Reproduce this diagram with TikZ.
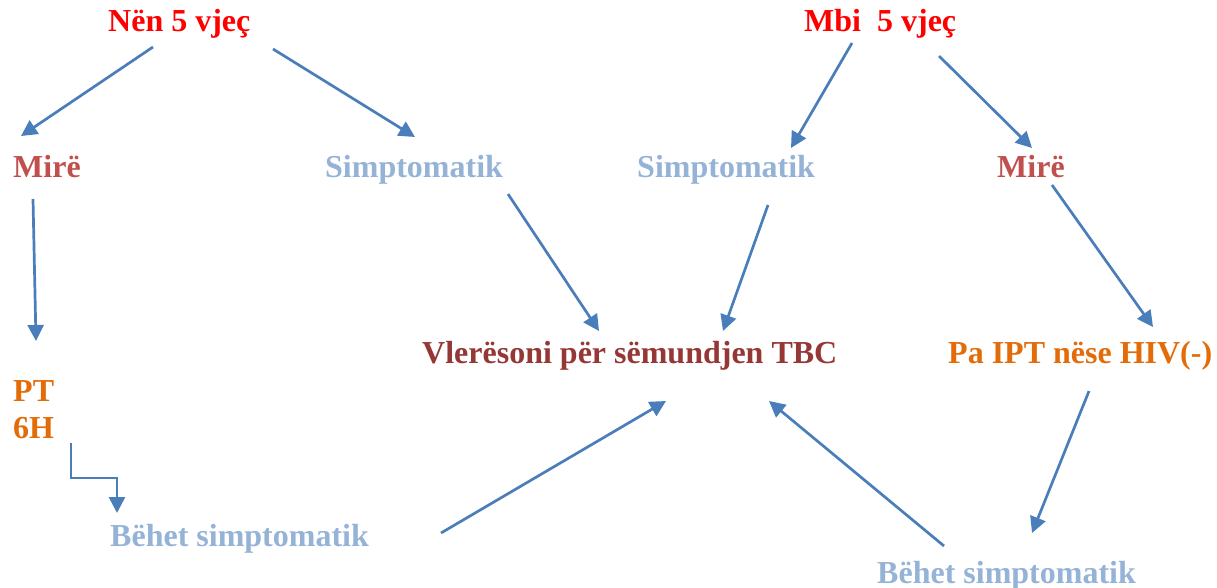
\documentclass[tikz,border=0pt]{standalone}
\usepackage{fontspec}
\setmainfont{Liberation Serif}
\usetikzlibrary{arrows.meta}
\definecolor{cred}{HTML}{FF0000}
\definecolor{cmire}{HTML}{C0504D}
\definecolor{csym}{HTML}{95B3D7}
\definecolor{corange}{HTML}{E36C09}
\definecolor{cvler}{HTML}{953735}
\definecolor{carrow}{HTML}{4A7EBB}
\tikzset{
  lbl/.style={anchor=base west, inner sep=0pt, font=\fontsize{32}{37}\selectfont\bfseries},
  conn/.style={draw=carrow, line width=2.7pt, -{Triangle[length=16pt,width=16pt]}}
}
\begin{document}
\begin{tikzpicture}[x=1pt,y=-1pt]
\useasboundingbox (0,0) rectangle (1217,588);
% texts
\node[lbl, text=cred] (nen) at (108,32) {Nën 5 vjeç};
\node[lbl, text=cred] (mbi) at (804,32) {Mbi\ \ 5 vjeç};
\node[lbl, text=cmire] (mire1) at (13,178) {Mirë};
\node[lbl, text=csym] (sim1) at (325,178) {Simptomatik};
\node[lbl, text=csym] (sim2) at (637,178) {Simptomatik};
\node[lbl, text=cmire] (mire2) at (997,178) {Mirë};
\node[lbl, text=cvler] (vler) at (422,363) {Vlerësoni për sëmundjen TBC};
\node[lbl, text=corange] (pa) at (948,363) {Pa IPT nëse HIV(-)};
\node[lbl, text=corange] (pt) at (13,401) {PT};
\node[lbl, text=corange] (sixh) at (13,438) {6H};
\node[lbl, text=csym] (beh1) at (110,546) {Bëhet simptomatik};
\node[lbl, text=csym] (beh2) at (877,583) {Bëhet simptomatik};
% connector end points
\coordinate (a1s) at (153,47);  \coordinate (a1e) at (21,136);
\coordinate (a2s) at (273,49);  \coordinate (a2e) at (415,137);
\coordinate (a3s) at (852,43);  \coordinate (a3e) at (791,148);
\coordinate (a4s) at (939,56);  \coordinate (a4e) at (1032,148);
\coordinate (a5s) at (33,199);  \coordinate (a5e) at (36,341);
\coordinate (a6s) at (71,443);  \coordinate (a6m) at (117,478); \coordinate (a6e) at (117,513);
\coordinate (a7s) at (508,194); \coordinate (a7e) at (599,331);
\coordinate (a8s) at (768,205); \coordinate (a8e) at (723,331);
\coordinate (a9s) at (1052,185); \coordinate (a9e) at (1153,327);
\coordinate (a10s) at (441,533); \coordinate (a10e) at (666,401);
\coordinate (a11s) at (944,546); \coordinate (a11e) at (769,401);
\coordinate (a12s) at (1089,391); \coordinate (a12e) at (1032,533);
% connectors
\draw[conn] (a1s) -- (a1e);
\draw[conn] (a2s) -- (a2e);
\draw[conn] (a3s) -- (a3e);
\draw[conn] (a4s) -- (a4e);
\draw[conn] (a5s) -- (a5e);
\draw[conn] (a6s) |- (a6m) -- (a6e);
\draw[conn] (a7s) -- (a7e);
\draw[conn] (a8s) -- (a8e);
\draw[conn] (a9s) -- (a9e);
\draw[conn] (a10s) -- (a10e);
\draw[conn] (a11s) -- (a11e);
\draw[conn] (a12s) -- (a12e);
\end{tikzpicture}
\end{document}
